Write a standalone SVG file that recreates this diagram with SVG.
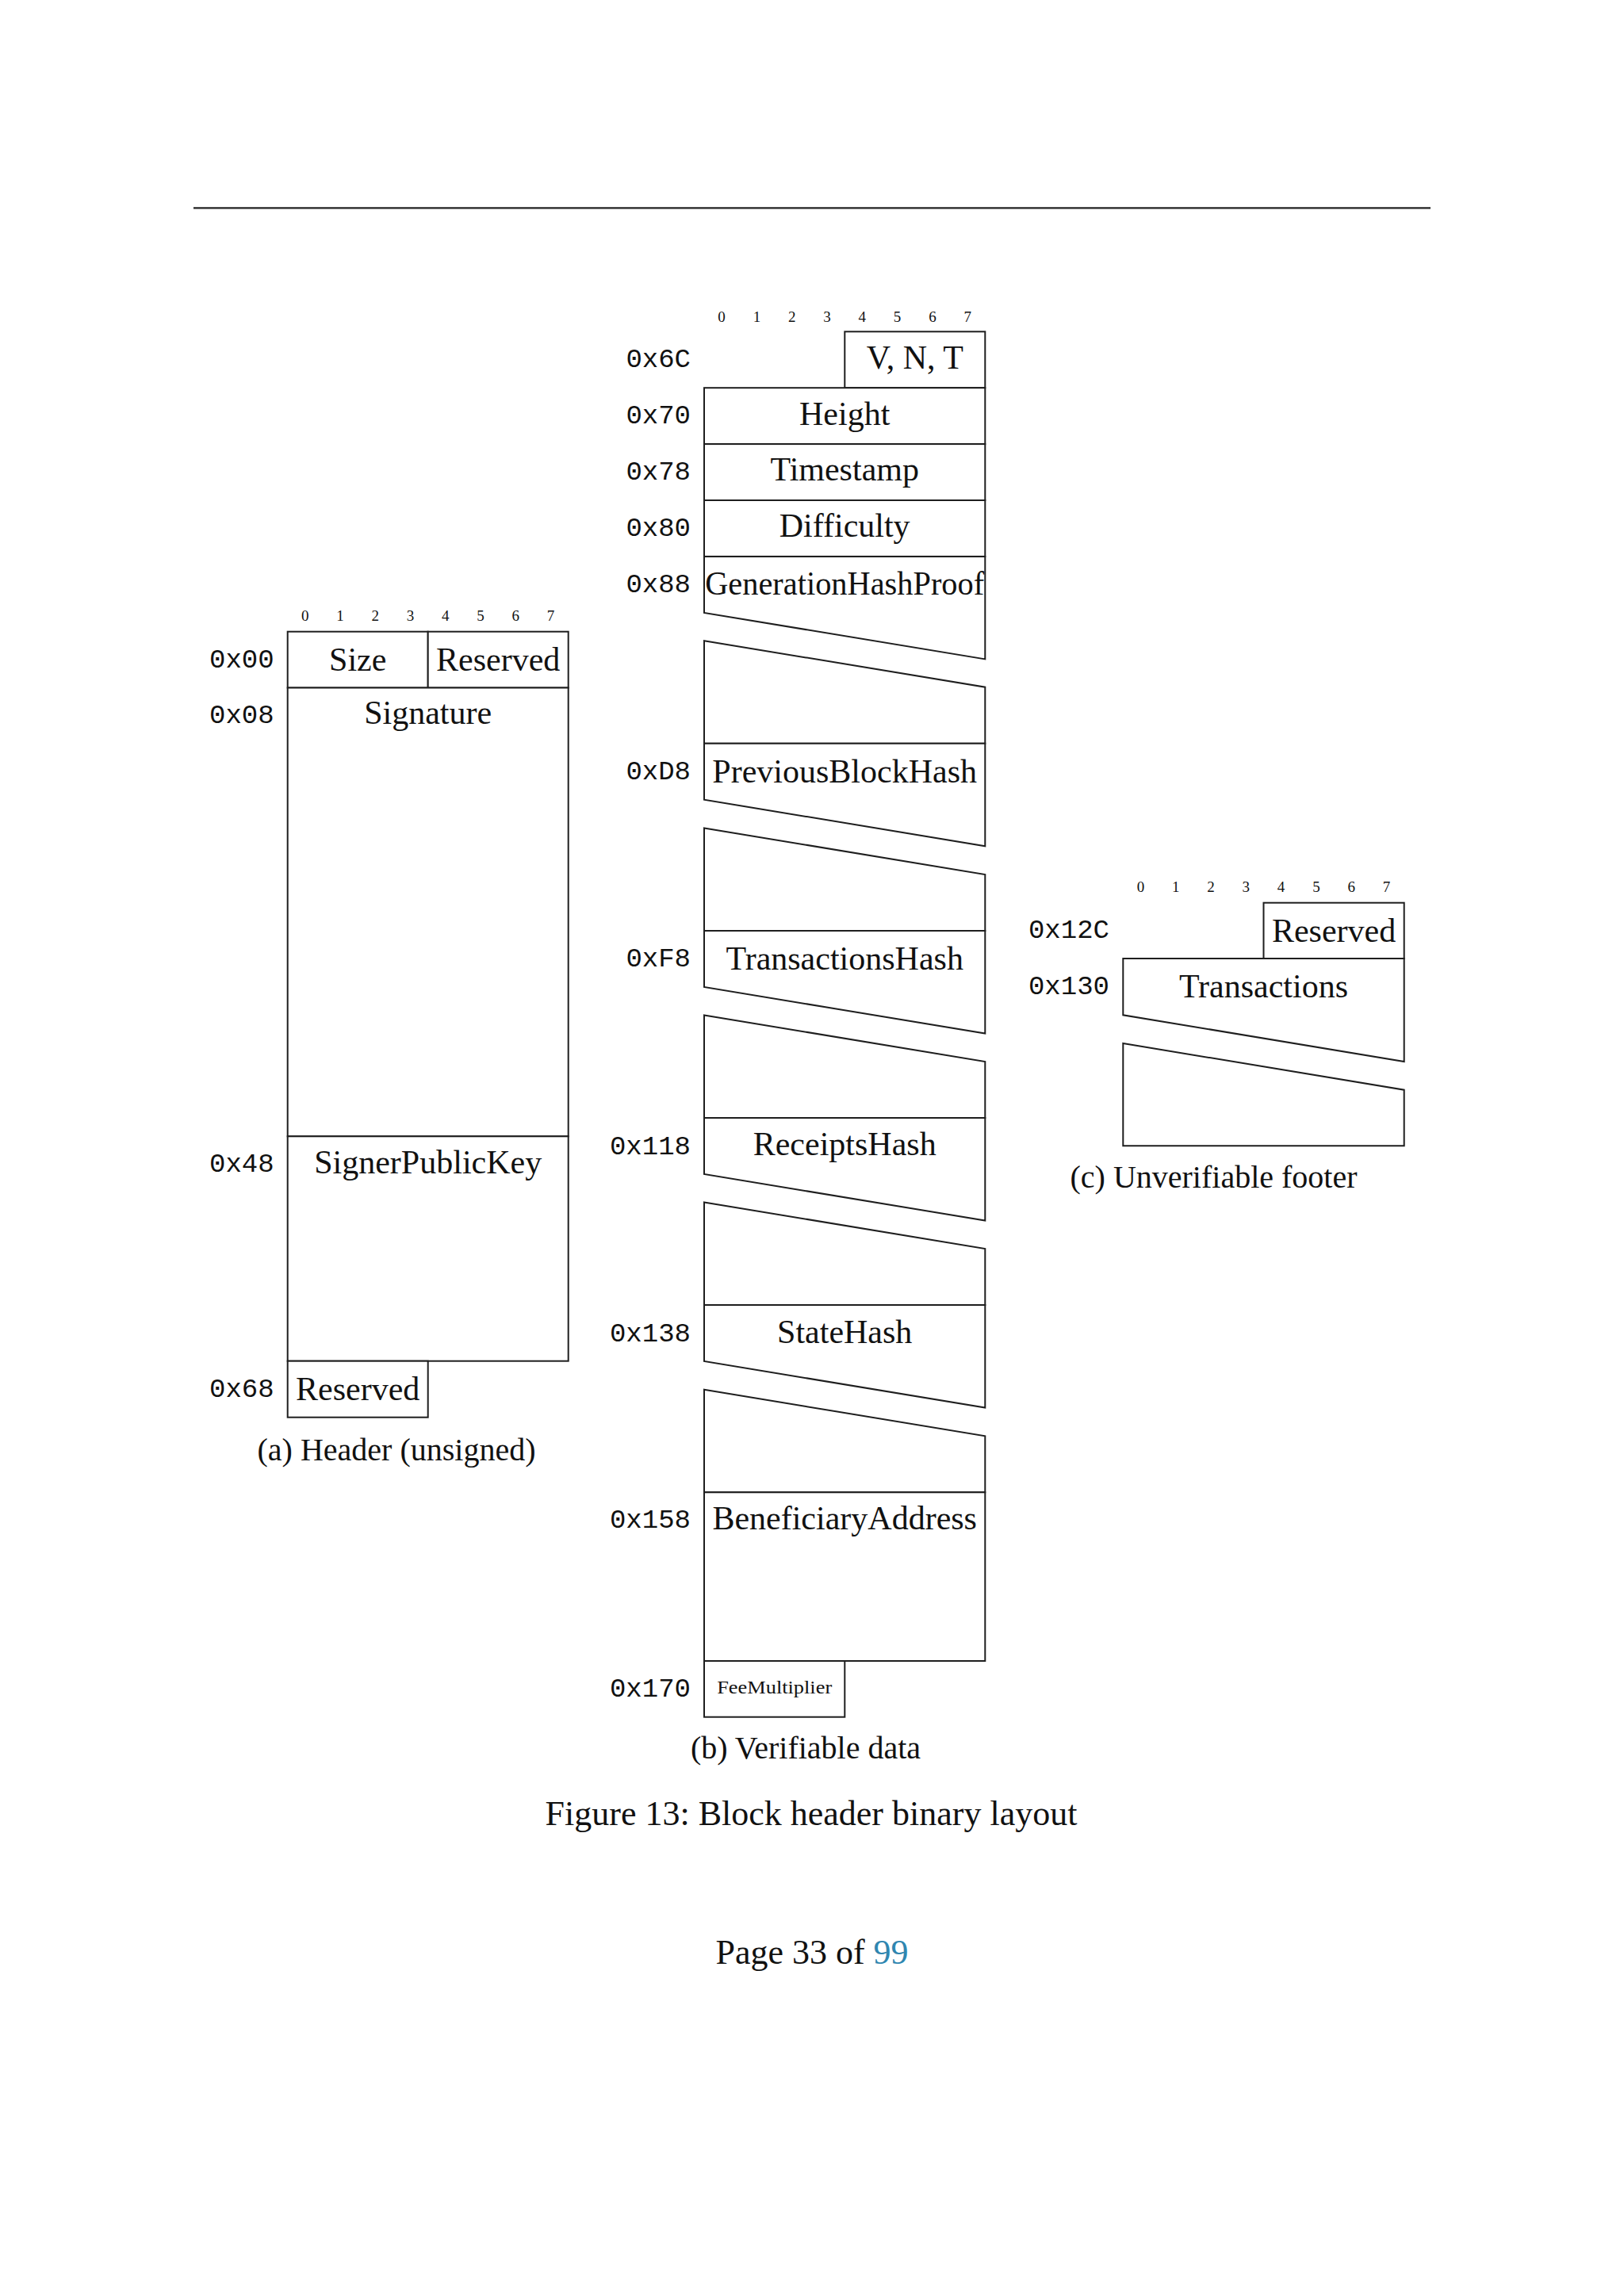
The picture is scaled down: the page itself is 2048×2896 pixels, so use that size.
<svg xmlns="http://www.w3.org/2000/svg" width="2048" height="2896" viewBox="0 0 2048 2896">
<style>
.bg{fill:#ffffff}
.box{fill:#ffffff;stroke:#1e1e1e;stroke-width:2;stroke-linejoin:miter}
.rule{stroke:#222222;stroke-width:2.2}
.lbl{font-family:"Liberation Serif","Times New Roman",serif;font-size:42px;fill:#111111;text-anchor:middle}
.off{font-family:"Liberation Mono","Courier New",monospace;font-size:34px;fill:#111111;text-anchor:end}
.byte{font-family:"Liberation Serif","Times New Roman",serif;font-size:19px;fill:#111111;text-anchor:middle}
.cap{font-family:"Liberation Serif","Times New Roman",serif;font-size:40px;fill:#111111;text-anchor:middle}
.main{font-family:"Liberation Serif","Times New Roman",serif;font-size:44px;fill:#111111;text-anchor:middle}
.small{font-family:"Liberation Serif","Times New Roman",serif;font-size:23px;fill:#111111;text-anchor:middle}
</style>
<rect class="bg" x="0" y="0" width="2048" height="2896"/>
<line class="rule" x1="244" y1="262.3" x2="1804" y2="262.3"/>

<!-- (a) Header (unsigned) -->
<g id="header-bytes">
<text class="byte" x="384.8" y="782.7">0</text>
<text class="byte" x="429.1" y="782.7">1</text>
<text class="byte" x="473.3" y="782.7">2</text>
<text class="byte" x="517.6" y="782.7">3</text>
<text class="byte" x="561.8" y="782.7">4</text>
<text class="byte" x="606.1" y="782.7">5</text>
<text class="byte" x="650.3" y="782.7">6</text>
<text class="byte" x="694.6" y="782.7">7</text>
</g>
<g id="a-size">
<rect class="box" x="362.7" y="796.7" width="177" height="70.8"/>
<text class="off" x="345.7" y="841.7">0x00</text>
<text class="lbl" x="451.2" y="846">Size</text>
</g>
<g id="a-reserved0">
<rect class="box" x="539.7" y="796.7" width="177" height="70.8"/>
<text class="lbl" x="628.2" y="846">Reserved</text>
</g>
<g id="a-signature">
<rect class="box" x="362.7" y="867.5" width="354" height="565.8"/>
<text class="off" x="345.7" y="911.7">0x08</text>
<text class="lbl" x="539.7" y="913.3">Signature</text>
</g>
<g id="a-signer">
<rect class="box" x="362.7" y="1433.3" width="354" height="283.4"/>
<text class="off" x="345.7" y="1478.3">0x48</text>
<text class="lbl" x="539.7" y="1480">SignerPublicKey</text>
</g>
<g id="a-reserved68">
<rect class="box" x="362.7" y="1716.7" width="177" height="71"/>
<text class="off" x="345.7" y="1761.7">0x68</text>
<text class="lbl" x="451.2" y="1765.5">Reserved</text>
</g>
<text class="cap" x="500" y="1841.7">(a) Header (unsigned)</text>

<!-- (b) Verifiable data -->
<g id="verifiable-bytes">
<text class="byte" x="910.1" y="406">0</text>
<text class="byte" x="954.4" y="406">1</text>
<text class="byte" x="998.7" y="406">2</text>
<text class="byte" x="1043" y="406">3</text>
<text class="byte" x="1087.3" y="406">4</text>
<text class="byte" x="1131.6" y="406">5</text>
<text class="byte" x="1175.9" y="406">6</text>
<text class="byte" x="1220.2" y="406">7</text>
</g>
<g id="b-vnt">
<rect class="box" x="1065.3" y="418.3" width="177" height="70.9"/>
<text class="off" x="871" y="463.3">0x6C</text>
<text class="lbl" x="1153.8" y="465">V, N, T</text>
</g>
<g id="b-height">
<rect class="box" x="888" y="489.2" width="354.3" height="70.9"/>
<text class="off" x="871" y="534.2">0x70</text>
<text class="lbl" x="1065.2" y="535.5">Height</text>
</g>
<g id="b-timestamp">
<rect class="box" x="888" y="560.1" width="354.3" height="70.9"/>
<text class="off" x="871" y="605.1">0x78</text>
<text class="lbl" x="1065.2" y="606.4">Timestamp</text>
</g>
<g id="b-difficulty">
<rect class="box" x="888" y="631" width="354.3" height="70.9"/>
<text class="off" x="871" y="676">0x80</text>
<text class="lbl" x="1065.2" y="677.3">Difficulty</text>
</g>
<g id="b-genhash">
<polygon class="box" points="888,701.9 1242.3,701.9 1242.3,831.4 888,772.9"/>
<polygon class="box" points="888,808.2 1242.3,866.7 1242.3,937.7 888,937.7"/>
<text class="off" x="871" y="746.8">0x88</text>
<text class="lbl" x="1065.2" y="749.5" textLength="352" lengthAdjust="spacingAndGlyphs">GenerationHashProof</text>
</g>
<g id="b-prevhash">
<polygon class="box" points="888,937.7 1242.3,937.7 1242.3,1067.2 888,1008.7"/>
<polygon class="box" points="888,1044.5 1242.3,1103 1242.3,1174 888,1174"/>
<text class="off" x="871" y="982.7">0xD8</text>
<text class="lbl" x="1065.2" y="986.5">PreviousBlockHash</text>
</g>
<g id="b-txhash">
<polygon class="box" points="888,1174 1242.3,1174 1242.3,1303.5 888,1245"/>
<polygon class="box" points="888,1280.5 1242.3,1339 1242.3,1410 888,1410"/>
<text class="off" x="871" y="1218.8">0xF8</text>
<text class="lbl" x="1065.2" y="1222.5">TransactionsHash</text>
</g>
<g id="b-receipts">
<polygon class="box" points="888,1410 1242.3,1410 1242.3,1539.5 888,1481"/>
<polygon class="box" points="888,1516.5 1242.3,1575 1242.3,1646 888,1646"/>
<text class="off" x="871" y="1455.5">0x118</text>
<text class="lbl" x="1065.2" y="1457">ReceiptsHash</text>
</g>
<g id="b-state">
<polygon class="box" points="888,1646 1242.3,1646 1242.3,1775.5 888,1717"/>
<polygon class="box" points="888,1752.8 1242.3,1811.3 1242.3,1882.3 888,1882.3"/>
<text class="off" x="871" y="1691.5">0x138</text>
<text class="lbl" x="1065.2" y="1694">StateHash</text>
</g>
<g id="b-beneficiary">
<rect class="box" x="888" y="1882.3" width="354.3" height="212.7"/>
<text class="off" x="871" y="1927">0x158</text>
<text class="lbl" x="1065.2" y="1928.5">BeneficiaryAddress</text>
</g>
<g id="b-fee">
<rect class="box" x="888" y="2095" width="177.3" height="70.7"/>
<text class="off" x="871" y="2139.5">0x170</text>
<text class="small" x="976.7" y="2136" textLength="145" lengthAdjust="spacingAndGlyphs">FeeMultiplier</text>
</g>
<text class="cap" x="1016" y="2218">(b) Verifiable data</text>

<!-- (c) Unverifiable footer -->
<g id="footer-bytes">
<text class="byte" x="1438.4" y="1125">0</text>
<text class="byte" x="1482.7" y="1125">1</text>
<text class="byte" x="1527" y="1125">2</text>
<text class="byte" x="1571.3" y="1125">3</text>
<text class="byte" x="1615.6" y="1125">4</text>
<text class="byte" x="1659.9" y="1125">5</text>
<text class="byte" x="1704.2" y="1125">6</text>
<text class="byte" x="1748.5" y="1125">7</text>
</g>
<g id="c-reserved">
<rect class="box" x="1593.5" y="1138.7" width="177.2" height="70.3"/>
<text class="off" x="1399" y="1183.3">0x12C</text>
<text class="lbl" x="1682.1" y="1187.5">Reserved</text>
</g>
<g id="c-transactions">
<polygon class="box" points="1416.3,1209 1770.7,1209 1770.7,1339 1416.3,1280.3"/>
<polygon class="box" points="1416.3,1316 1770.7,1374.7 1770.7,1445.3 1416.3,1445.3"/>
<text class="off" x="1399" y="1254">0x130</text>
<text class="lbl" x="1593.5" y="1257.5">Transactions</text>
</g>
<text class="cap" x="1530.5" y="1498.3">(c) Unverifiable footer</text>

<g id="connectors"/>

<text class="main" x="1023" y="2302">Figure 13: Block header binary layout</text>
<text class="main" x="1024" y="2477">Page 33 of <tspan fill="#2f86b0">99</tspan></text>
</svg>
